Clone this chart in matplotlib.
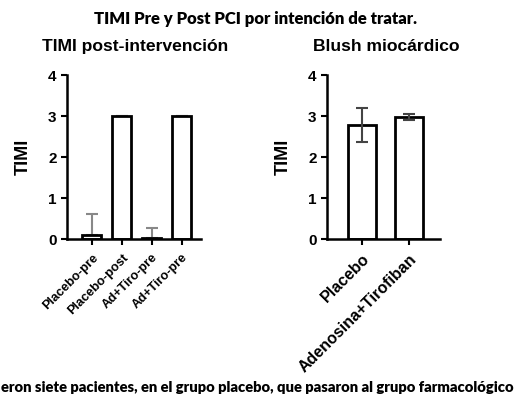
import numpy as np
import matplotlib.pyplot as plt

# data
cats_left = ["Placebo-pre", "Placebo-post", "Ad+Tiro-pre", "Ad+Tiro-pre"]
timi_left = [0.10, 3.0, 0.03, 3.0]
err_left = [0.52, 0.0, 0.24, 0.0]

cats_right = ["Placebo", "Adenosina+Tirofiban"]
blush = [2.78, 2.97]
err_right = [0.42, 0.07]

title = "TIMI Pre y Post PCI por intención de tratar."
footer = "eron siete pacientes, en el grupo placebo, que pasaron al grupo farmacológico"

arial = "Liberation Sans"
calibri = ["Lato", "DejaVu Sans"]

fig = plt.figure(figsize=(5.19, 3.99), dpi=100)
fig.text(0.493, 0.953, title, ha="center", va="center", fontsize=12,
         fontweight="heavy", family=calibri)
fig.text(0.001, 0.028, footer, ha="left", va="center", fontsize=10.6,
         fontweight="heavy", family=calibri)


def style_axis(ax, ylabel):
    ax.set_ylim(0, 4)
    ax.set_yticks([0, 1, 2, 3, 4])
    for s in ["top", "right"]:
        ax.spines[s].set_visible(False)
    for s in ["left", "bottom"]:
        ax.spines[s].set_linewidth(1.8)
    ax.tick_params(axis="both", width=1.5, length=4, direction="out")
    ax.tick_params(axis="x", pad=5)
    for lab in ax.get_yticklabels():
        lab.set_fontweight("bold")
        lab.set_fontsize(11)
        lab.set_family(arial)
    ax.set_ylabel(ylabel, fontsize=13, fontweight="bold", family=arial,
                  labelpad=12)


# left panel
ax1 = fig.add_axes([0.129, 0.401, 0.258, 0.411])
x1 = np.arange(len(cats_left))
ax1.bar(x1, timi_left, width=0.63, facecolor="white", edgecolor="black",
        linewidth=2.0, zorder=2)
ax1.errorbar(x1, timi_left, yerr=[np.zeros(len(err_left)), err_left],
             fmt="none", ecolor="#888888", elinewidth=1.5, capsize=4,
             capthick=1.5, zorder=1)
ax1.set_xlim(-0.83, 3.63)
ax1.set_xticks(x1)
ax1.set_xticklabels(cats_left, rotation=45, ha="right",
                    rotation_mode="anchor", fontsize=9.2, fontweight="bold",
                    family=arial)
style_axis(ax1, "TIMI")
ax1.set_title("TIMI post-intervención", fontsize=12.6, fontweight="bold",
              family=arial, loc="left", x=-0.19, pad=17)

# right panel
ax2 = fig.add_axes([0.630, 0.401, 0.218, 0.411])
x2 = np.arange(len(cats_right))
ax2.bar(x2, blush, width=0.6, facecolor="white", edgecolor="black",
        linewidth=2.0, zorder=2)
ax2.errorbar(x2, blush, yerr=err_right, fmt="none", ecolor="#444444",
             elinewidth=1.5, capsize=4, capthick=1.5, zorder=3)
ax2.set_xlim(-0.74, 1.66)
ax2.set_xticks(x2)
ax2.set_xticklabels(cats_right, rotation=45, ha="right",
                    rotation_mode="anchor", fontsize=11.5, fontweight="bold",
                    family=arial)
style_axis(ax2, "TIMI")
ax2.set_title("Blush miocárdico", fontsize=12.6, fontweight="bold",
              family=arial, loc="left", x=-0.12, pad=17)

fig.savefig("out.png", dpi=100)
